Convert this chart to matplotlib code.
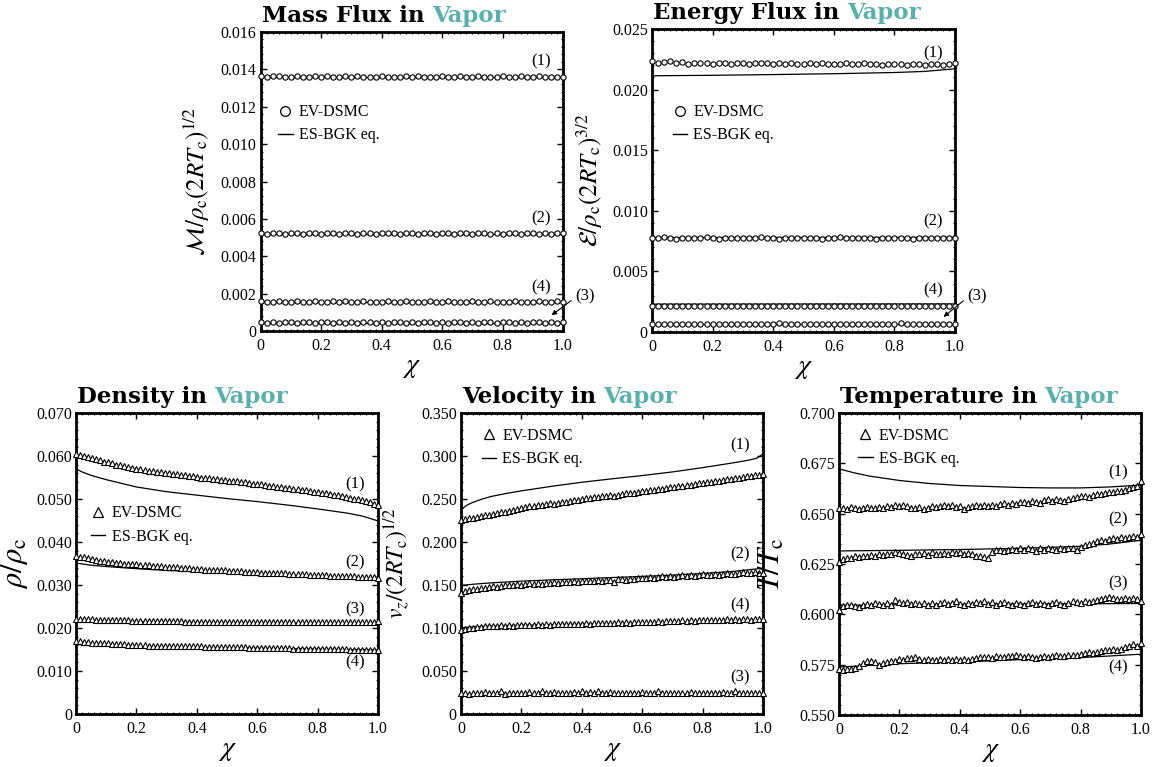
import numpy as np
import matplotlib
matplotlib.use("Agg")
import matplotlib.pyplot as plt
from matplotlib.ticker import AutoMinorLocator, FixedLocator, FixedFormatter

# ---------------- data ----------------
# Mass flux in vapor (EV-DSMC samples, ES-BGK curves), cases (1)-(4)
mass_dsmc_1 = [0.01365, 0.01357, 0.01362, 0.01364, 0.01358, 0.01361, 0.01363, 0.01360, 0.01359, 0.01362,
               0.01360, 0.01364, 0.01358, 0.01361, 0.01362, 0.01357, 0.01363, 0.01360, 0.01361, 0.01359,
               0.01362, 0.01360, 0.01358, 0.01361, 0.01366, 0.01359, 0.01362, 0.01360, 0.01361, 0.01358,
               0.01362, 0.01360, 0.01359, 0.01362, 0.01361, 0.01358, 0.01363, 0.01360, 0.01359, 0.01361,
               0.01362, 0.01358, 0.01360, 0.01362, 0.01359, 0.01361, 0.01363, 0.01358, 0.01360, 0.01359, 0.01360]
mass_dsmc_2 = [0.00522, 0.00520, 0.00524, 0.00526, 0.00521, 0.00523, 0.00522, 0.00520, 0.00523, 0.00525,
               0.00521, 0.00522, 0.00524, 0.00520, 0.00523, 0.00522, 0.00521, 0.00525, 0.00522, 0.00520,
               0.00523, 0.00522, 0.00524, 0.00521, 0.00522, 0.00523, 0.00520, 0.00522, 0.00525, 0.00521,
               0.00523, 0.00522, 0.00520, 0.00524, 0.00522, 0.00521, 0.00523, 0.00522, 0.00520, 0.00524,
               0.00521, 0.00522, 0.00523, 0.00520, 0.00522, 0.00524, 0.00521, 0.00522, 0.00520, 0.00523, 0.00522]
mass_dsmc_3 = [0.00047, 0.00045, 0.00046, 0.00044, 0.00047, 0.00046, 0.00045, 0.00047, 0.00046, 0.00044,
               0.00046, 0.00047, 0.00045, 0.00046, 0.00044, 0.00046, 0.00045, 0.00047, 0.00046, 0.00045,
               0.00046, 0.00044, 0.00046, 0.00047, 0.00045, 0.00046, 0.00044, 0.00046, 0.00047, 0.00045,
               0.00046, 0.00045, 0.00047, 0.00046, 0.00044, 0.00046, 0.00045, 0.00047, 0.00046, 0.00045,
               0.00046, 0.00049, 0.00045, 0.00046, 0.00044, 0.00046, 0.00047, 0.00045, 0.00046, 0.00045, 0.00046]
mass_dsmc_4 = [0.00159, 0.00157, 0.00158, 0.00160, 0.00157, 0.00158, 0.00159, 0.00157, 0.00158, 0.00160,
               0.00158, 0.00157, 0.00159, 0.00158, 0.00161, 0.00158, 0.00157, 0.00159, 0.00158, 0.00157,
               0.00158, 0.00160, 0.00157, 0.00158, 0.00159, 0.00158, 0.00157, 0.00158, 0.00160, 0.00158,
               0.00157, 0.00159, 0.00158, 0.00157, 0.00158, 0.00159, 0.00157, 0.00158, 0.00160, 0.00158,
               0.00157, 0.00158, 0.00159, 0.00157, 0.00158, 0.00158, 0.00160, 0.00157, 0.00158, 0.00159, 0.00158]
mass_bgk_x = [0.0, 1.0]
mass_bgk_1 = [0.01359, 0.01359]
mass_bgk_2 = [0.00521, 0.00521]
mass_bgk_3 = [0.00045, 0.00045]
mass_bgk_4 = [0.00157, 0.00157]

# Energy flux in vapor
energy_dsmc_1 = [0.02235, 0.02222, 0.02228, 0.02232, 0.02220, 0.02226, 0.02215, 0.02222, 0.02218, 0.02220,
                 0.02212, 0.02223, 0.02217, 0.02214, 0.02221, 0.02219, 0.02210, 0.02218, 0.02216, 0.02222,
                 0.02213, 0.02217, 0.02211, 0.02218, 0.02215, 0.02209, 0.02217, 0.02214, 0.02219, 0.02211,
                 0.02215, 0.02208, 0.02216, 0.02213, 0.02210, 0.02217, 0.02209, 0.02214, 0.02206, 0.02212,
                 0.02208, 0.02213, 0.02205, 0.02210, 0.02214, 0.02203, 0.02208, 0.02212, 0.02206, 0.02210, 0.02216]
energy_dsmc_2 = [0.00778, 0.00772, 0.00780, 0.00776, 0.00771, 0.00779, 0.00774, 0.00777, 0.00773, 0.00781,
                 0.00775, 0.00770, 0.00778, 0.00774, 0.00776, 0.00779, 0.00772, 0.00775, 0.00780, 0.00773,
                 0.00776, 0.00771, 0.00778, 0.00774, 0.00777, 0.00773, 0.00779, 0.00775, 0.00771, 0.00777,
                 0.00774, 0.00780, 0.00773, 0.00776, 0.00772, 0.00778, 0.00775, 0.00770, 0.00777, 0.00774,
                 0.00779, 0.00773, 0.00776, 0.00771, 0.00778, 0.00774, 0.00777, 0.00773, 0.00776, 0.00772, 0.00777]
energy_dsmc_3 = [0.00069, 0.00067, 0.00068, 0.00066, 0.00069, 0.00068, 0.00067, 0.00070, 0.00068, 0.00066,
                 0.00068, 0.00069, 0.00067, 0.00068, 0.00066, 0.00068, 0.00067, 0.00069, 0.00068, 0.00067,
                 0.00068, 0.00071, 0.00068, 0.00069, 0.00067, 0.00068, 0.00066, 0.00068, 0.00069, 0.00067,
                 0.00068, 0.00067, 0.00069, 0.00068, 0.00066, 0.00068, 0.00067, 0.00069, 0.00068, 0.00067,
                 0.00068, 0.00072, 0.00067, 0.00068, 0.00066, 0.00068, 0.00069, 0.00067, 0.00068, 0.00067, 0.00068]
energy_dsmc_4 = [0.00214, 0.00212, 0.00215, 0.00213, 0.00211, 0.00214, 0.00212, 0.00213, 0.00215, 0.00212,
                 0.00213, 0.00211, 0.00214, 0.00213, 0.00212, 0.00215, 0.00213, 0.00211, 0.00214, 0.00212,
                 0.00213, 0.00215, 0.00212, 0.00213, 0.00211, 0.00214, 0.00213, 0.00212, 0.00215, 0.00213,
                 0.00211, 0.00214, 0.00212, 0.00213, 0.00215, 0.00212, 0.00213, 0.00211, 0.00214, 0.00213,
                 0.00212, 0.00215, 0.00213, 0.00211, 0.00214, 0.00212, 0.00213, 0.00215, 0.00212, 0.00213, 0.00214]
energy_bgk_x1 = [0.0, 0.2, 0.4, 0.6, 0.8, 0.9, 1.0]
energy_bgk_1 = [0.02114, 0.02118, 0.02124, 0.02131, 0.02141, 0.02150, 0.02172]
energy_bgk_x = [0.0, 1.0]
energy_bgk_2 = [0.00779, 0.00781]
energy_bgk_3 = [0.00068, 0.00068]
energy_bgk_4 = [0.00230, 0.00232]

# Density in vapor
dens_dsmc_1 = [0.0605, 0.0602, 0.0600, 0.0597, 0.0595, 0.0592, 0.0590, 0.0587, 0.0585, 0.0583, 0.0580, 0.0578, 0.0576, 0.0574, 0.0572, 0.0570,
               0.0569, 0.0568, 0.0566, 0.0565, 0.0564, 0.0563, 0.0561, 0.0560, 0.0559, 0.0558, 0.0556, 0.0555, 0.0554, 0.0553, 0.0551,
               0.0550, 0.0549, 0.0548, 0.0547, 0.0546, 0.0545, 0.0544, 0.0543, 0.0542, 0.0541, 0.0540, 0.0539, 0.0538, 0.0536, 0.0535,
               0.0534, 0.0533, 0.0531, 0.0530, 0.0529, 0.0528, 0.0526, 0.0525, 0.0524, 0.0523, 0.0521, 0.0520, 0.0519, 0.0517, 0.0516,
               0.0515, 0.0513, 0.0512, 0.0510, 0.0509, 0.0507, 0.0505, 0.0503, 0.0501, 0.0499, 0.0497, 0.0495, 0.0492, 0.0489, 0.0486]
dens_dsmc_2 = [0.0368, 0.0366, 0.0364, 0.0362, 0.0360, 0.0358, 0.0357, 0.0355, 0.0354, 0.0353, 0.0352, 0.0351, 0.0350, 0.0349, 0.0349, 0.0348,
               0.0347, 0.0347, 0.0346, 0.0345, 0.0345, 0.0344, 0.0343, 0.0342, 0.0342, 0.0341, 0.0340, 0.0340, 0.0339, 0.0338, 0.0337,
               0.0337, 0.0336, 0.0336, 0.0335, 0.0335, 0.0334, 0.0334, 0.0333, 0.0333, 0.0332, 0.0332, 0.0331, 0.0331, 0.0330, 0.0330,
               0.0329, 0.0329, 0.0328, 0.0328, 0.0327, 0.0327, 0.0327, 0.0326, 0.0326, 0.0325, 0.0325, 0.0325, 0.0324, 0.0324, 0.0324,
               0.0323, 0.0323, 0.0322, 0.0322, 0.0322, 0.0321, 0.0321, 0.0320, 0.0320, 0.0319, 0.0319, 0.0318, 0.0318, 0.0318, 0.0317]
dens_dsmc_3 = [0.0221, 0.0221, 0.0220, 0.0220, 0.0220, 0.0219, 0.0219, 0.0219, 0.0219, 0.0218, 0.0218, 0.0218, 0.0218, 0.0218, 0.0217, 0.0217,
               0.0217, 0.0217, 0.0217, 0.0217, 0.0216, 0.0216, 0.0216, 0.0216, 0.0216, 0.0216, 0.0216, 0.0215, 0.0215, 0.0215, 0.0215,
               0.0215, 0.0215, 0.0215, 0.0215, 0.0215, 0.0214, 0.0214, 0.0214, 0.0214, 0.0214, 0.0214, 0.0214, 0.0214, 0.0214, 0.0214,
               0.0213, 0.0213, 0.0213, 0.0213, 0.0213, 0.0213, 0.0213, 0.0213, 0.0213, 0.0213, 0.0213, 0.0213, 0.0213, 0.0213, 0.0213,
               0.0213, 0.0213, 0.0213, 0.0213, 0.0213, 0.0213, 0.0213, 0.0213, 0.0214, 0.0214, 0.0214, 0.0214, 0.0215, 0.0215, 0.0216]
dens_dsmc_4 = [0.0170, 0.0169, 0.0168, 0.0167, 0.0166, 0.0166, 0.0165, 0.0164, 0.0164, 0.0163, 0.0163, 0.0162, 0.0162, 0.0161, 0.0161, 0.0160,
               0.0160, 0.0160, 0.0159, 0.0159, 0.0159, 0.0159, 0.0158, 0.0158, 0.0158, 0.0158, 0.0158, 0.0157, 0.0157, 0.0157, 0.0157,
               0.0157, 0.0156, 0.0156, 0.0156, 0.0156, 0.0156, 0.0155, 0.0155, 0.0155, 0.0155, 0.0155, 0.0155, 0.0154, 0.0154, 0.0154,
               0.0154, 0.0154, 0.0153, 0.0153, 0.0153, 0.0153, 0.0153, 0.0153, 0.0152, 0.0152, 0.0152, 0.0152, 0.0152, 0.0152, 0.0152,
               0.0151, 0.0151, 0.0151, 0.0151, 0.0151, 0.0151, 0.0151, 0.0150, 0.0150, 0.0150, 0.0150, 0.0150, 0.0150, 0.0150, 0.0150]
dens_bgk_x1 = [0.0, 0.02, 0.05, 0.1, 0.2, 0.3, 0.4, 0.5, 0.6, 0.7, 0.8, 0.9, 0.95, 1.0]
dens_bgk_1 = [0.0570, 0.0563, 0.0555, 0.0545, 0.0528, 0.0517, 0.0509, 0.0501, 0.0494, 0.0486, 0.0477, 0.0467, 0.0460, 0.0449]
dens_bgk_x2 = [0.0, 0.05, 0.1, 0.2, 0.3, 0.4, 0.5, 0.6, 0.7, 0.8, 0.9, 0.95, 1.0]
dens_bgk_2 = [0.0351, 0.0346, 0.0343, 0.0338, 0.0334, 0.0331, 0.0328, 0.0325, 0.0322, 0.0319, 0.0316, 0.0314, 0.0310]
dens_bgk_x3 = [0.0, 0.2, 0.4, 0.6, 0.8, 0.9, 1.0]
dens_bgk_3 = [0.0217, 0.0215, 0.0213, 0.0212, 0.0211, 0.0211, 0.0213]
dens_bgk_x4 = [0.0, 0.1, 0.2, 0.4, 0.6, 0.8, 1.0]
dens_bgk_4 = [0.0162, 0.0159, 0.0157, 0.0155, 0.0153, 0.0151, 0.0149]

# Velocity in vapor
vel_dsmc_1 = [0.2255, 0.2262, 0.2275, 0.2282, 0.2295, 0.2300, 0.2312, 0.2318, 0.2330, 0.2335, 0.2348, 0.2352, 0.2365, 0.2378, 0.2385, 0.2400,
              0.2405, 0.2415, 0.2418, 0.2428, 0.2432, 0.2440, 0.2448, 0.2445, 0.2458, 0.2465, 0.2470, 0.2478, 0.2485, 0.2490, 0.2502,
              0.2508, 0.2512, 0.2520, 0.2518, 0.2530, 0.2538, 0.2545, 0.2540, 0.2552, 0.2558, 0.2565, 0.2570, 0.2575, 0.2582, 0.2590,
              0.2595, 0.2600, 0.2610, 0.2615, 0.2622, 0.2628, 0.2635, 0.2640, 0.2648, 0.2655, 0.2660, 0.2668, 0.2675, 0.2682, 0.2690,
              0.2695, 0.2700, 0.2708, 0.2712, 0.2720, 0.2728, 0.2735, 0.2742, 0.2748, 0.2755, 0.2762, 0.2768, 0.2775, 0.2782, 0.2790]
vel_dsmc_2 = [0.1412, 0.1425, 0.1440, 0.1450, 0.1455, 0.1462, 0.1470, 0.1478, 0.1485, 0.1480, 0.1492, 0.1498, 0.1495, 0.1502, 0.1508, 0.1505,
              0.1512, 0.1518, 0.1510, 0.1522, 0.1515, 0.1528, 0.1520, 0.1532, 0.1525, 0.1535, 0.1540, 0.1530, 0.1542, 0.1538, 0.1548,
              0.1545, 0.1552, 0.1548, 0.1558, 0.1550, 0.1562, 0.1555, 0.1540, 0.1565, 0.1570, 0.1562, 0.1575, 0.1568, 0.1580, 0.1587,
              0.1582, 0.1590, 0.1585, 0.1595, 0.1600, 0.1592, 0.1602, 0.1598, 0.1608, 0.1612, 0.1605, 0.1615, 0.1610, 0.1620, 0.1626,
              0.1618, 0.1622, 0.1630, 0.1612, 0.1628, 0.1635, 0.1625, 0.1632, 0.1640, 0.1650, 0.1638, 0.1642, 0.1648, 0.1640, 0.1645]
vel_dsmc_3 = [0.0240, 0.0245, 0.0238, 0.0250, 0.0242, 0.0247, 0.0252, 0.0240, 0.0248, 0.0243, 0.0262, 0.0238, 0.0246, 0.0250, 0.0242, 0.0248,
              0.0240, 0.0252, 0.0244, 0.0249, 0.0265, 0.0241, 0.0247, 0.0255, 0.0243, 0.0250, 0.0239, 0.0246, 0.0253, 0.0242, 0.0262,
              0.0240, 0.0256, 0.0244, 0.0264, 0.0241, 0.0247, 0.0252, 0.0243, 0.0248, 0.0240, 0.0245, 0.0250, 0.0242, 0.0247, 0.0255,
              0.0241, 0.0246, 0.0250, 0.0262, 0.0243, 0.0248, 0.0240, 0.0245, 0.0250, 0.0242, 0.0247, 0.0253, 0.0240, 0.0248, 0.0244,
              0.0250, 0.0241, 0.0247, 0.0245, 0.0252, 0.0240, 0.0248, 0.0262, 0.0244, 0.0250, 0.0241, 0.0247, 0.0243, 0.0246, 0.0244]
vel_dsmc_4 = [0.0975, 0.0988, 0.0998, 0.1005, 0.1010, 0.1015, 0.1018, 0.1022, 0.1020, 0.1026, 0.1030, 0.1025, 0.1032, 0.1028, 0.1035, 0.1032,
              0.1036, 0.1040, 0.1035, 0.1042, 0.1038, 0.1045, 0.1040, 0.1046, 0.1042, 0.1048, 0.1050, 0.1045, 0.1052, 0.1048, 0.1052,
              0.1055, 0.1050, 0.1058, 0.1054, 0.1060, 0.1056, 0.1062, 0.1058, 0.1065, 0.1060, 0.1067, 0.1063, 0.1070, 0.1066, 0.1072,
              0.1068, 0.1075, 0.1070, 0.1078, 0.1074, 0.1080, 0.1076, 0.1085, 0.1078, 0.1088, 0.1082, 0.1090, 0.1085, 0.1092, 0.1093,
              0.1088, 0.1096, 0.1090, 0.1098, 0.1094, 0.1100, 0.1095, 0.1102, 0.1097, 0.1100, 0.1104, 0.1098, 0.1102, 0.1099, 0.1100]
vel_bgk_x1 = [0.0, 0.01, 0.02, 0.04, 0.07, 0.1, 0.15, 0.2, 0.3, 0.4, 0.5, 0.6, 0.7, 0.8, 0.9, 0.95, 0.98, 1.0]
vel_bgk_1 = [0.2375, 0.2405, 0.2430, 0.2462, 0.2500, 0.2530, 0.2565, 0.2595, 0.2648, 0.2695,
             0.2735, 0.2773, 0.2815, 0.2865, 0.2920, 0.2950, 0.2975, 0.3025]
vel_bgk_x2 = [0.0, 0.05, 0.1, 0.2, 0.3, 0.4, 0.5, 0.6, 0.7, 0.8, 0.9, 1.0]
vel_bgk_2 = [0.1495, 0.1512, 0.1525, 0.1545, 0.1560, 0.1573, 0.1587, 0.1600, 0.1615, 0.1635, 0.1658, 0.1695]
vel_bgk_x3 = [0.0, 1.0]
vel_bgk_3 = [0.0232, 0.0232]
vel_bgk_x4 = [0.0, 0.05, 0.1, 0.2, 0.4, 0.6, 0.8, 1.0]
vel_bgk_4 = [0.1003, 0.1015, 0.1022, 0.1032, 0.1045, 0.1055, 0.1063, 0.1075]

# Temperature in vapor
temp_dsmc_1 = [0.6527, 0.6530, 0.6524, 0.6532, 0.6528, 0.6525, 0.6530, 0.6533, 0.6526, 0.6530, 0.6535, 0.6528, 0.6540, 0.6535, 0.6545, 0.6538,
               0.6542, 0.6536, 0.6530, 0.6528, 0.6535, 0.6522, 0.6530, 0.6538, 0.6532, 0.6540, 0.6545, 0.6538, 0.6542, 0.6535, 0.6540,
               0.6522, 0.6535, 0.6540, 0.6545, 0.6538, 0.6542, 0.6536, 0.6545, 0.6540, 0.6548, 0.6552, 0.6545, 0.6555, 0.6550, 0.6560,
               0.6558, 0.6555, 0.6565, 0.6560, 0.6552, 0.6568, 0.6572, 0.6565, 0.6575, 0.6570, 0.6565, 0.6575, 0.6578, 0.6585, 0.6587,
               0.6590, 0.6585, 0.6595, 0.6600, 0.6598, 0.6605, 0.6610, 0.6608, 0.6615, 0.6612, 0.6620, 0.6628, 0.6632, 0.6640, 0.6660]
temp_dsmc_2 = [0.6262, 0.6275, 0.6282, 0.6278, 0.6288, 0.6285, 0.6292, 0.6288, 0.6295, 0.6290, 0.6298, 0.6295, 0.6302, 0.6298, 0.6310, 0.6305,
               0.6300, 0.6295, 0.6290, 0.6302, 0.6298, 0.6305, 0.6295, 0.6308, 0.6302, 0.6298, 0.6305, 0.6300, 0.6310, 0.6304, 0.6308,
               0.6300, 0.6305, 0.6298, 0.6292, 0.6290, 0.6285, 0.6280, 0.6312, 0.6318, 0.6322, 0.6315, 0.6320, 0.6325, 0.6318, 0.6328,
               0.6322, 0.6330, 0.6325, 0.6315, 0.6328, 0.6320, 0.6332, 0.6325, 0.6318, 0.6330, 0.6326, 0.6332, 0.6328, 0.6322, 0.6336,
               0.6342, 0.6348, 0.6355, 0.6362, 0.6370, 0.6365, 0.6375, 0.6380, 0.6372, 0.6385, 0.6378, 0.6382, 0.6390, 0.6385, 0.6398]
temp_dsmc_3 = [0.6020, 0.6042, 0.6048, 0.6045, 0.6040, 0.6038, 0.6045, 0.6052, 0.6048, 0.6055, 0.6050, 0.6045, 0.6055, 0.6048, 0.6070, 0.6062,
               0.6058, 0.6060, 0.6052, 0.6056, 0.6050, 0.6058, 0.6048, 0.6055, 0.6045, 0.6058, 0.6062, 0.6050, 0.6055, 0.6065, 0.6052,
               0.6045, 0.6058, 0.6050, 0.6062, 0.6055, 0.6068, 0.6052, 0.6060, 0.6048, 0.6055, 0.6062, 0.6050, 0.6045, 0.6058, 0.6052,
               0.6048, 0.6055, 0.6060, 0.6052, 0.6058, 0.6050, 0.6048, 0.6055, 0.6060, 0.6052, 0.6045, 0.6058, 0.6065, 0.6060, 0.6058,
               0.6068, 0.6060, 0.6065, 0.6070, 0.6078, 0.6082, 0.6085, 0.6080, 0.6078, 0.6075, 0.6080, 0.6078, 0.6082, 0.6075, 0.6068]
temp_dsmc_4 = [0.5728, 0.5725, 0.5730, 0.5728, 0.5735, 0.5745, 0.5760, 0.5770, 0.5768, 0.5762, 0.5748, 0.5760, 0.5765, 0.5770, 0.5768, 0.5778,
               0.5775, 0.5782, 0.5785, 0.5788, 0.5780, 0.5772, 0.5778, 0.5775, 0.5772, 0.5776, 0.5774, 0.5778, 0.5772, 0.5776, 0.5775,
               0.5778, 0.5772, 0.5780, 0.5785, 0.5788, 0.5786, 0.5790, 0.5785, 0.5792, 0.5788, 0.5790, 0.5795, 0.5792, 0.5798, 0.5795,
               0.5790, 0.5795, 0.5788, 0.5785, 0.5790, 0.5792, 0.5788, 0.5795, 0.5798, 0.5795, 0.5792, 0.5798, 0.5800, 0.5796, 0.5803,
               0.5808, 0.5812, 0.5810, 0.5815, 0.5820, 0.5825, 0.5822, 0.5828, 0.5825, 0.5830, 0.5838, 0.5845, 0.5855, 0.5842, 0.5858]
temp_bgk_x1 = [0.0, 0.05, 0.1, 0.2, 0.3, 0.4, 0.5, 0.6, 0.7, 0.8, 0.9, 1.0]
temp_bgk_1 = [0.6723, 0.6703, 0.6687, 0.6665, 0.6650, 0.6640, 0.6635, 0.6630, 0.6628, 0.6628, 0.6633, 0.6642]
temp_bgk_x2 = [0.0, 0.2, 0.4, 0.6, 0.8, 0.9, 1.0]
temp_bgk_2 = [0.6315, 0.6318, 0.6322, 0.6328, 0.6338, 0.6350, 0.6368]
temp_bgk_x3 = [0.0, 0.25, 0.5, 0.75, 1.0]
temp_bgk_3 = [0.6045, 0.6048, 0.6050, 0.6052, 0.6054]
temp_bgk_x4 = [0.0, 0.2, 0.4, 0.6, 0.8, 1.0]
temp_bgk_4 = [0.5738, 0.5755, 0.5763, 0.5775, 0.5785, 0.5802]

x_ticks = [0.0, 0.2, 0.4, 0.6, 0.8, 1.0]
x_tick_labels = ["0", "0.2", "0.4", "0.6", "0.8", "1.0"]
mass_ticks = [0, 0.002, 0.004, 0.006, 0.008, 0.010, 0.012, 0.014, 0.016]
mass_tick_labels = ["0", "0.002", "0.004", "0.006", "0.008", "0.010", "0.012", "0.014", "0.016"]
energy_ticks = [0, 0.005, 0.010, 0.015, 0.020, 0.025]
energy_tick_labels = ["0", "0.005", "0.010", "0.015", "0.020", "0.025"]
dens_ticks = [0, 0.010, 0.020, 0.030, 0.040, 0.050, 0.060, 0.070]
dens_tick_labels = ["0", "0.010", "0.020", "0.030", "0.040", "0.050", "0.060", "0.070"]
vel_ticks = [0, 0.050, 0.100, 0.150, 0.200, 0.250, 0.300, 0.350]
vel_tick_labels = ["0", "0.050", "0.100", "0.150", "0.200", "0.250", "0.300", "0.350"]
temp_ticks = [0.550, 0.575, 0.600, 0.625, 0.650, 0.675, 0.700]
temp_tick_labels = ["0.550", "0.575", "0.600", "0.625", "0.650", "0.675", "0.700"]

# ---------------- style ----------------
plt.rcParams.update({
    "font.family": "serif",
    "font.serif": ["Liberation Serif", "DejaVu Serif"],
    "mathtext.fontset": "stix",
})
TEAL = "#5cb0ac"
TITLE_FONT = dict(family="DejaVu Serif", weight="bold", size=16.5)

fig = plt.figure(figsize=(11.54, 7.67), dpi=100)

ax_m = fig.add_axes([0.2259, 0.5684, 0.2620, 0.3899])
ax_e = fig.add_axes([0.5650, 0.5671, 0.2626, 0.3951])
ax_d = fig.add_axes([0.0659, 0.0691, 0.2617, 0.3924])
ax_v = fig.add_axes([0.3995, 0.0691, 0.2617, 0.3924])
ax_t = fig.add_axes([0.7270, 0.0678, 0.2617, 0.3937])


def dress(ax, ylim, yt, ytl, ylabel, ylab_x, ylab_size, title):
    ax.set_xlim(0, 1.0)
    ax.set_ylim(*ylim)
    ax.xaxis.set_major_locator(FixedLocator(x_ticks))
    ax.xaxis.set_major_formatter(FixedFormatter(x_tick_labels))
    ax.yaxis.set_major_locator(FixedLocator(yt))
    ax.yaxis.set_major_formatter(FixedFormatter(ytl))
    ax.xaxis.set_minor_locator(AutoMinorLocator(10))
    ax.yaxis.set_minor_locator(AutoMinorLocator(5))
    ax.tick_params(which="both", direction="in", top=True, right=True, labelsize=11.5, colors="black")
    ax.tick_params(which="major", length=4, width=1.0)
    ax.tick_params(which="minor", length=1.6, width=0.8)
    ax.tick_params(axis="y", pad=3)
    ax.tick_params(axis="x", pad=5)
    for s in ax.spines.values():
        s.set_linewidth(2.0)
    ax.set_xlabel(r"$\chi$", fontsize=20, labelpad=1)
    ax.set_ylabel(ylabel, fontsize=ylab_size)
    ax.yaxis.set_label_coords(ylab_x, 0.5)
    t1 = ax.annotate(title, xy=(0, 1), xycoords="axes fraction", xytext=(1, 7),
                     textcoords="offset points", ha="left", va="baseline", **TITLE_FONT)
    ax.annotate("Vapor", xy=(1, 0), xycoords=t1, xytext=(5, 0), textcoords="offset points",
                ha="left", va="bottom", color=TEAL, **TITLE_FONT)


def markers(ax, series, marker, size):
    for vals in series:
        xs = np.linspace(0, 1, len(vals))
        ax.plot(xs, vals, linestyle="none", marker=marker, markersize=size,
                markerfacecolor="white", markeredgecolor="black", markeredgewidth=0.8,
                clip_on=False, zorder=3)


def curves(ax, pairs):
    for xs, ys in pairs:
        ax.plot(xs, ys, color="black", linewidth=0.9, zorder=2)


def legend(ax, marker, anchor):
    h1, = ax.plot([], [], linestyle="none", marker=marker, markersize=7,
                  markerfacecolor="white", markeredgecolor="black", markeredgewidth=0.9)
    h2, = ax.plot([], [], color="black", linewidth=1.0)
    ax.legend([h1, h2], ["EV-DSMC", "ES-BGK eq."], loc="center left", bbox_to_anchor=anchor,
              frameon=False, fontsize=11.5, handlelength=0.9, handletextpad=0.4,
              labelspacing=0.45, borderpad=0, borderaxespad=0)


def tags(ax, items):
    for text, x, y in items:
        ax.text(x, y, text, ha="center", va="center", fontsize=12)


# Mass flux
curves(ax_m, [(mass_bgk_x, mass_bgk_1), (mass_bgk_x, mass_bgk_2),
              (mass_bgk_x, mass_bgk_3), (mass_bgk_x, mass_bgk_4)])
markers(ax_m, [mass_dsmc_1, mass_dsmc_2, mass_dsmc_3, mass_dsmc_4], "o", 3.8)
dress(ax_m, (0, 0.016), mass_ticks, mass_tick_labels,
      r"$\mathcal{M}/\rho_{\mathrm{c}}(2RT_{\mathrm{c}})^{1/2}$", -0.16, 18, "Mass Flux in")
legend(ax_m, "o", (0.058, 0.693))
tags(ax_m, [("(1)", 0.928, 0.0144), ("(2)", 0.928, 0.00602), ("(4)", 0.928, 0.00233)])
ax_m.annotate("(3)", xy=(0.962, 0.00085), xytext=(1.04, 0.00187), ha="left", va="center",
              fontsize=12, annotation_clip=False,
              arrowprops=dict(arrowstyle="-|>", color="black", lw=0.8, mutation_scale=7,
                              shrinkA=1, shrinkB=0, relpos=(0.0, 0.4)))

# Energy flux
curves(ax_e, [(energy_bgk_x1, energy_bgk_1), (energy_bgk_x, energy_bgk_2),
              (energy_bgk_x, energy_bgk_3), (energy_bgk_x, energy_bgk_4)])
markers(ax_e, [energy_dsmc_1, energy_dsmc_2, energy_dsmc_3, energy_dsmc_4], "o", 3.8)
dress(ax_e, (0, 0.025), energy_ticks, energy_tick_labels,
      r"$\mathcal{E}/\rho_{\mathrm{c}}(2RT_{\mathrm{c}})^{3/2}$", -0.155, 18, "Energy Flux in")
legend(ax_e, "o", (0.068, 0.687))
tags(ax_e, [("(1)", 0.926, 0.0230), ("(2)", 0.926, 0.0091), ("(4)", 0.926, 0.00345)])
ax_e.annotate("(3)", xy=(0.962, 0.00125), xytext=(1.04, 0.00297), ha="left", va="center",
              fontsize=12, annotation_clip=False,
              arrowprops=dict(arrowstyle="-|>", color="black", lw=0.8, mutation_scale=7,
                              shrinkA=1, shrinkB=0, relpos=(0.0, 0.4)))

# Density
curves(ax_d, [(dens_bgk_x1, dens_bgk_1), (dens_bgk_x2, dens_bgk_2),
              (dens_bgk_x3, dens_bgk_3), (dens_bgk_x4, dens_bgk_4)])
markers(ax_d, [dens_dsmc_1, dens_dsmc_2, dens_dsmc_3, dens_dsmc_4], "^", 4.0)
dress(ax_d, (0, 0.070), dens_ticks, dens_tick_labels,
      r"$\rho/\rho_{\mathrm{c}}$", -0.152, 22, "Density in")
legend(ax_d, "^", (0.049, 0.628))
tags(ax_d, [("(1)", 0.925, 0.0535), ("(2)", 0.925, 0.0352), ("(3)", 0.925, 0.0243), ("(4)", 0.925, 0.0121)])

# Velocity
curves(ax_v, [(vel_bgk_x1, vel_bgk_1), (vel_bgk_x2, vel_bgk_2),
              (vel_bgk_x3, vel_bgk_3), (vel_bgk_x4, vel_bgk_4)])
markers(ax_v, [vel_dsmc_1, vel_dsmc_2, vel_dsmc_3, vel_dsmc_4], "^", 4.0)
dress(ax_v, (0, 0.350), vel_ticks, vel_tick_labels,
      r"$v_z/(2RT_{\mathrm{c}})^{1/2}$", -0.162, 17, "Velocity in")
legend(ax_v, "^", (0.0685, 0.885))
tags(ax_v, [("(1)", 0.925, 0.312), ("(2)", 0.925, 0.186), ("(4)", 0.925, 0.126), ("(3)", 0.925, 0.042)])

# Temperature
curves(ax_t, [(temp_bgk_x1, temp_bgk_1), (temp_bgk_x2, temp_bgk_2),
              (temp_bgk_x3, temp_bgk_3), (temp_bgk_x4, temp_bgk_4)])
markers(ax_t, [temp_dsmc_1, temp_dsmc_2, temp_dsmc_3, temp_dsmc_4], "^", 4.0)
dress(ax_t, (0.550, 0.700), temp_ticks, temp_tick_labels,
      r"$T/T_{\mathrm{c}}$", -0.172, 22, "Temperature in")
legend(ax_t, "^", (0.064, 0.887))
tags(ax_t, [("(1)", 0.924, 0.6703), ("(2)", 0.924, 0.6470), ("(3)", 0.924, 0.6153), ("(4)", 0.924, 0.5737)])

fig.savefig("out.png", dpi=100)
